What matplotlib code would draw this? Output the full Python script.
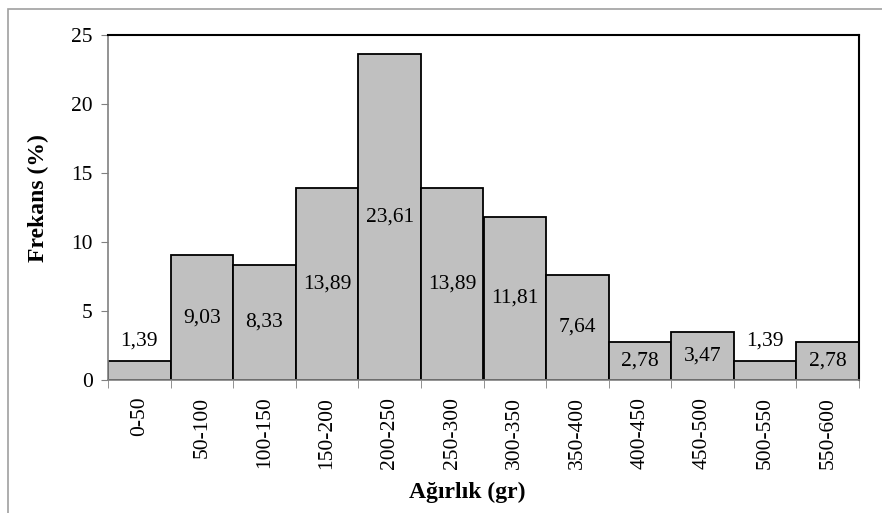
import matplotlib

matplotlib.use("Agg")
import matplotlib.pyplot as plt
from matplotlib.patches import Rectangle
import numpy as np

# weight classes (gr) and frequency (%)
classes = ["0-50", "50-100", "100-150", "150-200", "200-250", "250-300",
           "300-350", "350-400", "400-450", "450-500", "500-550", "550-600"]
freq = [1.39, 9.03, 8.33, 13.89, 23.61, 13.89, 11.81, 7.64, 2.78, 3.47, 1.39, 2.78]

plt.rcParams["font.family"] = ["Liberation Serif", "DejaVu Serif"]
GRAY = "#808080"

fig = plt.figure(figsize=(8.82, 5.13), dpi=100)
ax = fig.add_axes([108 / 882, 1 - 380 / 513, (859 - 108) / 882, (380 - 35) / 513])

# outer chart-area frame
fig.patches.append(Rectangle((8 / 882, -0.1), 1.2, 1 - 9 / 513 + 0.1, transform=fig.transFigure,
                             fill=False, edgecolor="#a0a0a0", linewidth=1.2))

x = np.arange(len(classes))
ax.bar(x, freq, width=1.0, color="#c0c0c0", edgecolor="black", linewidth=1.3)

for xi, v in zip(x, freq):
    txt = f"{v:.2f}".replace(".", ",")
    if v < 2:
        ax.annotate(txt, (xi, v), xytext=(0, 14), textcoords="offset points",
                    ha="center", va="center", fontsize=15.5)
    else:
        ax.text(xi, v / 2, txt, ha="center", va="center", fontsize=15.5)

ax.set_xlim(-0.5, len(classes) - 0.5)
ax.set_ylim(0, 25)
ax.set_yticks([0, 5, 10, 15, 20, 25])
ax.set_xticks(x)
ax.set_xticklabels(classes, rotation=90)
ax.set_xticks(np.arange(len(classes) + 1) - 0.5, minor=True)
ax.tick_params(axis="x", which="major", length=0, pad=12, labelsize=15.5)
ax.tick_params(axis="x", which="minor", length=6, color=GRAY, direction="out")
ax.tick_params(axis="y", length=5, color=GRAY, pad=6, labelsize=15.5)

for s in ("left", "bottom"):
    ax.spines[s].set_color(GRAY)
    ax.spines[s].set_linewidth(1.2)
for s in ("top", "right"):
    ax.spines[s].set_color("black")
    ax.spines[s].set_linewidth(1.5)

fig.text(38 / 882, 1 - 198 / 513, "Frekans (%)", rotation=90, ha="center", va="center",
         fontsize=17, fontweight="bold")
fig.text(467 / 882, 1 - 492 / 513, "Ağırlık (gr)", ha="center", va="center",
         fontsize=17, fontweight="bold")

fig.savefig("out.png", dpi=100)
